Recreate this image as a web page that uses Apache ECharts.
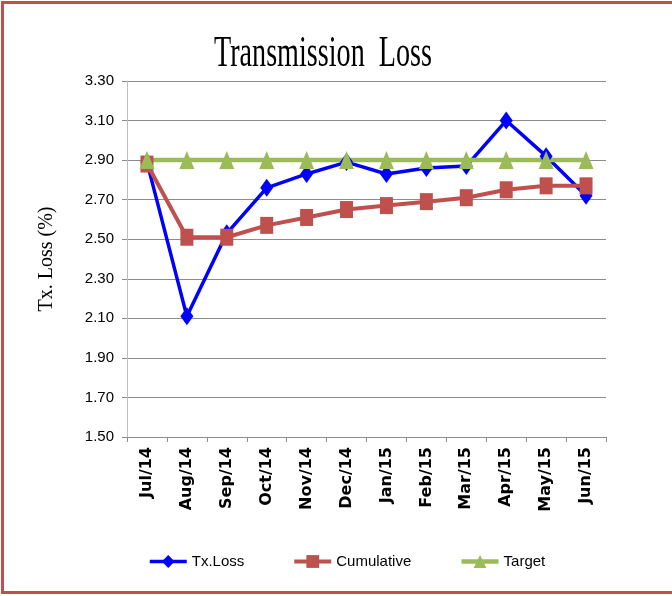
<!DOCTYPE html>
<html lang="en">
<head>
    <meta charset="utf-8" />
    <title>Transmission Loss</title>
    <script src="https://cdn.jsdelivr.net/npm/echarts@6/dist/echarts.min.js"></script>
    <style>
        html, body {
            margin: 0;
            background: #FFFFFF;
        }
        #chart {
            width: 672px;
            height: 596px;
        }
    </style>
</head>
<body>
<div id="chart"></div>
<script>
// data
var months = ['Jul/14', 'Aug/14', 'Sep/14', 'Oct/14', 'Nov/14', 'Dec/14',
    'Jan/15', 'Feb/15', 'Mar/15', 'Apr/15', 'May/15', 'Jun/15'];
var txLoss = [2.89, 2.11, 2.53, 2.76, 2.83, 2.89, 2.83, 2.86, 2.87, 3.10, 2.92, 2.72];
var cumulative = [2.88, 2.51, 2.51, 2.57, 2.61, 2.65, 2.67, 2.69, 2.71, 2.75, 2.77, 2.77];
var target = [2.90, 2.90, 2.90, 2.90, 2.90, 2.90, 2.90, 2.90, 2.90, 2.90, 2.90, 2.90];
var yTicks = [1.50, 1.70, 1.90, 2.10, 2.30, 2.50, 2.70, 2.90, 3.10, 3.30];

var chart = echarts.init(document.getElementById('chart'));

var gridLine = '#8C8C8C';
var sans = '"Liberation Sans", sans-serif';

chart.setOption({
    animation: false,
    backgroundColor: '#FFFFFF',
    graphic: [
        {
            // red frame round the chart
            type: 'rect',
            z: 100,
            silent: true,
            shape: { x: 2.5, y: 2.5, width: 700, height: 590 },
            style: { fill: 'none', stroke: '#C0504D', lineWidth: 3 }
        },
        {
            // title, squeezed sideways like the original
            type: 'text',
            x: 323,
            y: 54,
            scaleX: 0.64,
            style: {
                text: 'Transmission  Loss',
                font: 'normal 44px "Liberation Serif", serif',
                fill: '#000000',
                textAlign: 'center',
                textVerticalAlign: 'middle'
            }
        }
    ],
    legend: {
        left: 143,
        top: 549,
        itemWidth: 37,
        itemHeight: 16,
        itemGap: 48,
        lineStyle: { width: 'inherit' },
        textStyle: {
            fontFamily: sans,
            fontSize: 15,
            color: '#000000'
        },
        data: ['Tx.Loss', 'Cumulative', 'Target']
    },
    grid: {
        left: 127,
        right: 66,
        top: 81,
        bottom: 159
    },
    xAxis: {
        type: 'category',
        data: months,
        boundaryGap: true,
        axisLine: { lineStyle: { color: gridLine } },
        axisTick: { show: true, length: 5, lineStyle: { color: gridLine } },
        axisLabel: {
            rotate: 90,
            margin: 10,
            interval: 0,
            fontFamily: '"DejaVu Sans", sans-serif',
            fontWeight: 'bold',
            fontSize: 16,
            color: '#000000'
        }
    },
    yAxis: {
        type: 'value',
        min: 1.5,
        max: 3.3,
        name: 'Tx. Loss (%)',
        nameLocation: 'middle',
        nameGap: 70,
        nameRotate: 90,
        nameTextStyle: {
            fontFamily: '"Liberation Serif", serif',
            fontSize: 20,
            color: '#000000'
        },
        axisLine: { show: true, lineStyle: { color: '#BFBFBF' } },
        axisTick: { show: true, length: 5, customValues: yTicks, lineStyle: { color: gridLine } },
        splitLine: { show: true, lineStyle: { color: gridLine, width: 1 } },
        axisLabel: {
            customValues: yTicks,
            margin: 13,
            fontFamily: sans,
            fontSize: 15,
            color: '#000000',
            formatter: function (v) { return v.toFixed(2); }
        }
    },
    series: [
        {
            name: 'Tx.Loss',
            type: 'line',
            data: txLoss,
            symbol: 'diamond',
            symbolSize: [13, 18],
            itemStyle: { color: '#0000FF' },
            lineStyle: { color: '#0000FF', width: 3.5 }
        },
        {
            name: 'Cumulative',
            type: 'line',
            data: cumulative,
            symbol: 'rect',
            symbolSize: [13, 17],
            itemStyle: { color: '#C0504D' },
            lineStyle: { color: '#C0504D', width: 4 }
        },
        {
            name: 'Target',
            type: 'line',
            data: target,
            symbol: 'triangle',
            symbolSize: [15, 18],
            itemStyle: { color: '#9BBB59' },
            lineStyle: { color: '#9BBB59', width: 4.5 }
        }
    ]
});
</script>
</body>
</html>
